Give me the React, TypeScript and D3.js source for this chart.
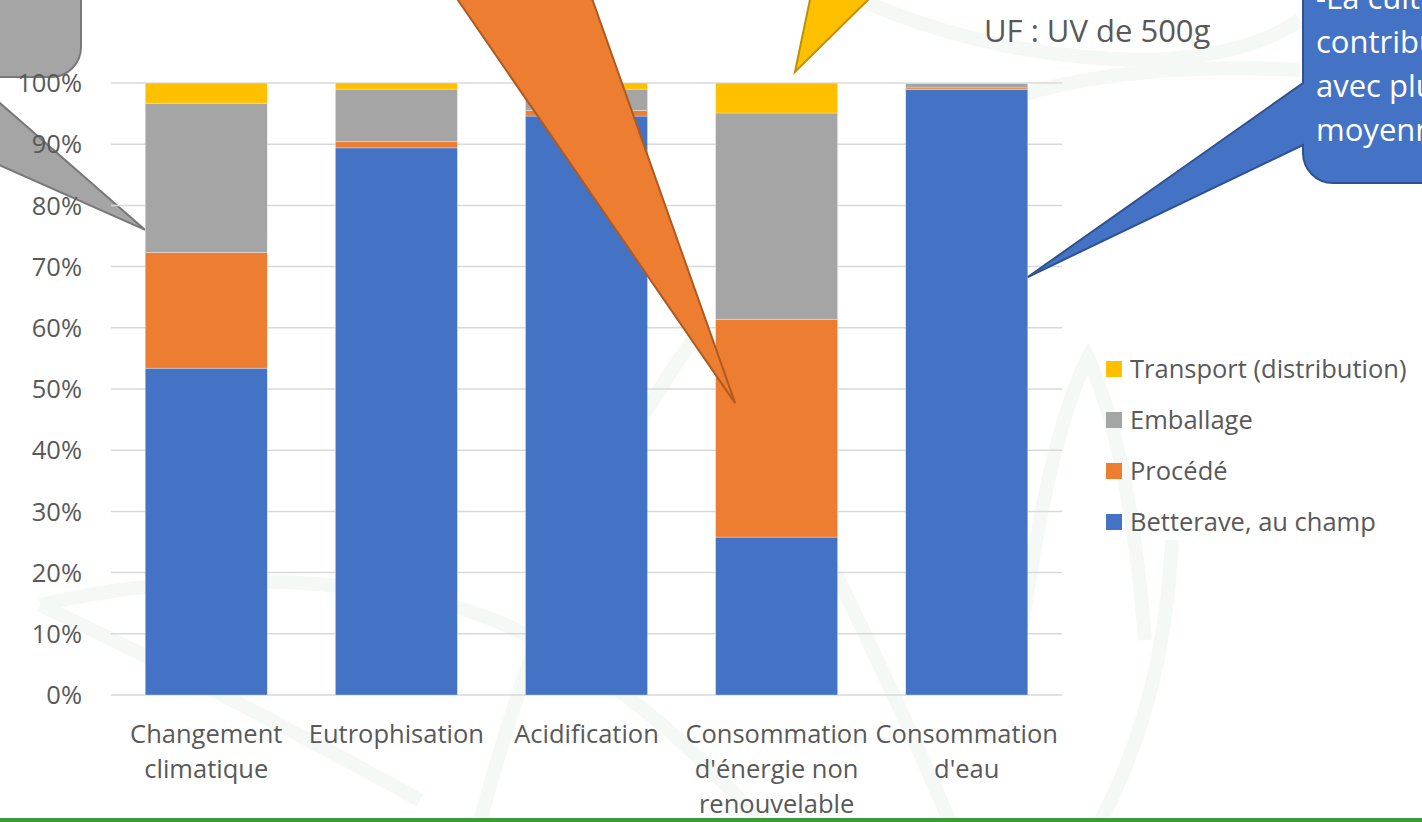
import React from "react";
import * as d3 from "d3";

const W = 1422;
const H = 822;

const categories = [
  "Changement climatique",
  "Eutrophisation",
  "Acidification",
  "Consommation d'énergie non renouvelable",
  "Consommation d'eau",
];
const categoryLines = [
  ["Changement", "climatique"],
  ["Eutrophisation"],
  ["Acidification"],
  ["Consommation", "d'énergie non", "renouvelable"],
  ["Consommation", "d'eau"],
];

const seriesNames = ["Betterave, au champ", "Procédé", "Emballage", "Transport (distribution)"];
const seriesColors = ["#4472c4", "#ed7d31", "#a5a5a5", "#ffc000"];

// % of each impact
const betterave = [53.4, 89.4, 94.6, 25.8, 98.9];
const procede = [18.9, 1.0, 0.9, 35.6, 0.3];
const emballage = [24.4, 8.6, 3.5, 33.7, 0.7];
const transport = [3.3, 1.0, 1.0, 4.9, 0.1];

const yTicks = [0, 0.1, 0.2, 0.3, 0.4, 0.5, 0.6, 0.7, 0.8, 0.9, 1];

const FONT = "'Open Sans', sans-serif";
const TEXT = "#595959";
const FS = 25.5;

export default function App() {
  const x = d3
    .scaleBand<string>()
    .domain(categories)
    .range([111, 1062])
    .paddingInner(0.358)
    .paddingOuter(0.18);
  const y = d3.scaleLinear().domain([0, 1]).range([695, 83]);
  const bw = x.bandwidth();

  const rows = categories.map((c, i) => ({
    cat: c,
    s0: betterave[i] / 100,
    s1: procede[i] / 100,
    s2: emballage[i] / 100,
    s3: transport[i] / 100,
  }));
  const stack = d3.stack<any>().keys(["s0", "s1", "s2", "s3"]);
  const layers = stack(rows);
  const fmt = d3.format(".0%");

  // callout tips, placed on the chart's own scales
  const grayTip = [x(categories[0])!, y(0.76)];
  const orangeTip = [x(categories[3])! + bw * 0.16, y(0.477)];
  const yellowTip = [x(categories[3])! + bw * 0.65, y(1.018)];
  const blueTip = [x(categories[4])! + bw, y(0.683)];

  const grayPath = `M-300,-100 H81 V47 A30,30 0 0 1 51,77 H-30 L${grayTip[0]},${grayTip[1]} L-199,77 H-300 Z`;
  const bluePath = `M1303,-100 V83 L${blueTip[0]},${blueTip[1]} L1303,145 V153 A30,30 0 0 0 1333,183 H1500 V-100 Z`;
  const orangePath = `M451,-10 L${orangeTip[0]},${orangeTip[1]} L589,-10 Z`;
  const yellowPath = `M812,-10 L${yellowTip[0]},${yellowTip[1]} L878,-10 Z`;

  return (
    <div style={{ position: "absolute", left: 0, top: 0 }}>
      <svg width={W} height={H} style={{ display: "block", background: "#fff" }}>
        {/* faint leaf watermark */}
        <g fill="none" stroke="#e9f2e9" strokeWidth={14} opacity={0.45}>
          <path d="M40,605 Q230,560 430,600 Q600,640 760,822" />
          <path d="M40,605 Q200,680 420,800" />
          <path d="M480,822 Q560,520 700,330 Q820,520 950,822" />
          <path d="M1172,540 Q1165,700 1100,822" />
          <path d="M1020,640 Q1050,430 1088,358 Q1130,450 1145,640" />
          <path d="M860,0 Q1000,60 1150,60 Q1250,55 1300,20" />
          <path d="M980,110 Q1100,60 1300,70" />
        </g>

        <path d={grayPath} fill="#a5a5a5" stroke="#787878" strokeWidth={2} />

        {/* gridlines */}
        {yTicks.map((t) => (
          <line key={t} x1={111} x2={1062} y1={y(t)} y2={y(t)} stroke="#d9d9d9" strokeWidth={1.5} />
        ))}

        {/* bars */}
        {layers.map((layer, li) => (
          <g key={li} fill={seriesColors[li]}>
            {layer.map((d: any, i: number) => (
              <rect
                key={i}
                x={x(d.data.cat)}
                y={y(d[1])}
                width={bw}
                height={Math.max(0, y(d[0]) - y(d[1]))}
                stroke="#ffffff"
                strokeOpacity={0.5}
                strokeWidth={0.6}
              />
            ))}
          </g>
        ))}

        {/* y tick labels */}
        {yTicks.map((t) => (
          <text
            key={t}
            x={82}
            y={y(t)}
            dy="0.36em"
            textAnchor="end"
            fontFamily={FONT}
            fontSize={FS}
            fill={TEXT}
          >
            {fmt(t)}
          </text>
        ))}

        {/* category labels */}
        {categories.map((c, i) => (
          <text
            key={c}
            x={x(c)! + bw / 2}
            textAnchor="middle"
            fontFamily={FONT}
            fontSize={FS}
            fill={TEXT}
          >
            {categoryLines[i].map((l, j) => (
              <tspan key={j} x={x(c)! + bw / 2} y={743 + j * 35}>
                {l}
              </tspan>
            ))}
          </text>
        ))}

        {/* legend */}
        {seriesNames
          .map((n, i) => ({ n, i }))
          .reverse()
          .map(({ n, i }, k) => (
            <g key={n} transform={`translate(1106,${369 + k * 51})`}>
              <rect x={0} y={-8} width={16} height={16} fill={seriesColors[i]} />
              <text x={24} dy="0.36em" fontFamily={FONT} fontSize={FS} fill={TEXT}>
                {n}
              </text>
            </g>
          ))}

        <text x={984} y={42} fontFamily={FONT} fontSize={31} fill={TEXT}>
          UF : UV de 500g
        </text>

        {/* callouts */}
        <path d={orangePath} fill="#ed7d31" stroke="#ae5a21" strokeWidth={2} />
        <path d={yellowPath} fill="#ffc000" stroke="#bf9000" strokeWidth={2} />
        <path d={bluePath} fill="#4472c4" stroke="#2f528f" strokeWidth={2} />
        <g fontFamily={FONT} fontSize={31} fill="#ffffff">
          <text x={1316} y={9}>-La culture</text>
          <text x={1316} y={53}>contribue</text>
          <text x={1316} y={97}>avec plus</text>
          <text x={1316} y={141}>moyenne</text>
        </g>

        <rect x={0} y={818} width={W} height={4} fill="#3c9a3c" />
      </svg>
    </div>
  );
}
